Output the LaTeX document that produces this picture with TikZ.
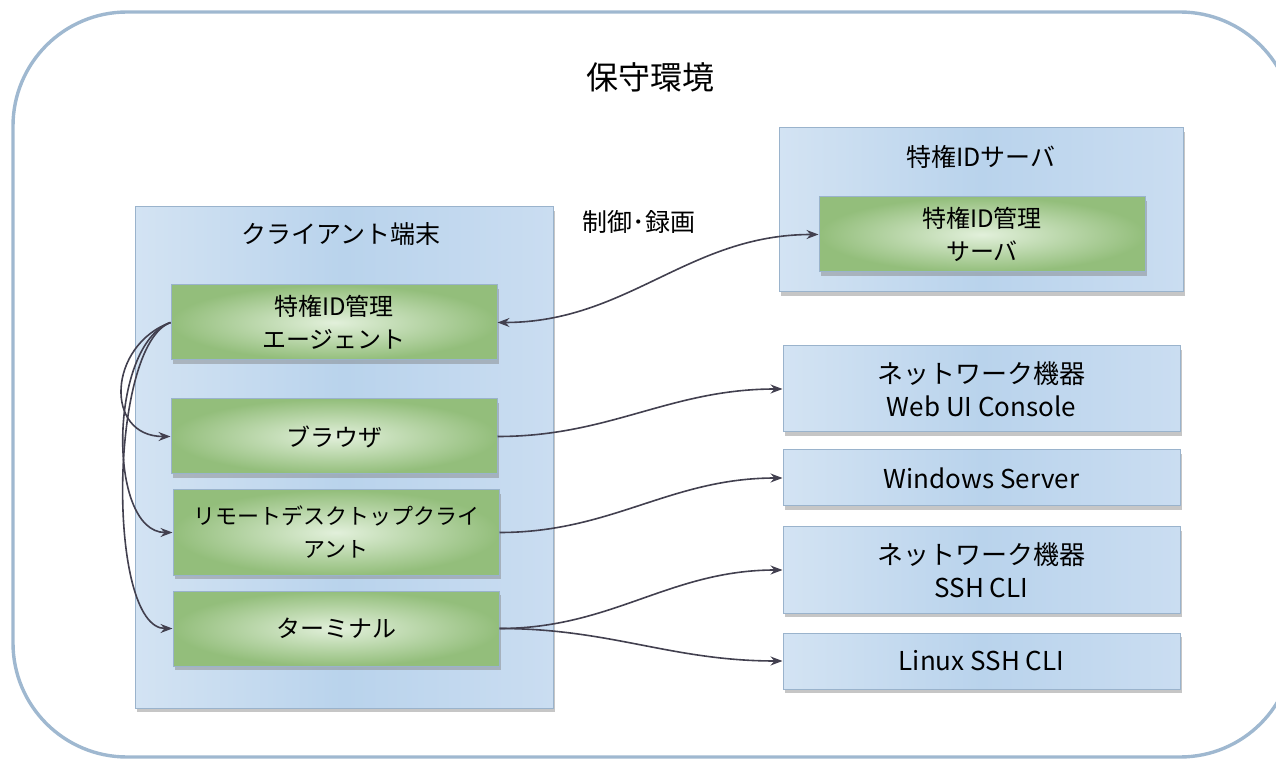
\documentclass[tikz,border=0pt]{standalone}
\usepackage{fontspec}
\setmainfont{Noto Sans CJK JP}
\usetikzlibrary{arrows.meta,shadows}

\definecolor{framecol}{HTML}{9FB8D0}
\definecolor{boxline}{HTML}{9AB3CC}
\definecolor{blueL}{HTML}{D3E3F3}
\definecolor{blueM}{HTML}{B9D3EC}
\definecolor{blueR}{HTML}{CADDF1}
\definecolor{greenIn}{HTML}{E2F0DB}
\definecolor{greenOut}{HTML}{93BE7B}
\definecolor{conncol}{HTML}{42404F}

\newcommand\boxfont{\fontsize{12}{16.5}\selectfont}

\begin{document}
\begin{tikzpicture}[x=0.5pt, y=-0.5pt,
    frame/.style = {draw=framecol, line width=1.7pt, rounded corners=57pt},
    boxbase/.style = {draw=boxline, line width=0.5pt, inner sep=0pt, align=center,
        font=\boxfont, drop shadow={shadow xshift=0.8pt, shadow yshift=-1.8pt, opacity=0.45}},
    bluebox/.style = {boxbase, left color=blueL, right color=blueR, middle color=blueM},
    greenbox/.style = {boxbase, inner color=greenIn, outer color=greenOut,
        minimum width=163pt, minimum height=37.5pt},
    devbox/.style = {bluebox, minimum width=198.5pt, font=\fontsize{13}{16.5}\selectfont},
    conn/.style = {draw=conncol, line width=0.8pt, -{Stealth[length=6pt, width=4.5pt, inset=2pt]}},
    bothconn/.style = {draw=conncol, line width=0.8pt,
        {Stealth[length=6pt, width=4.5pt, inset=2pt]}-{Stealth[length=6pt, width=4.5pt, inset=2pt]}}
]
    \useasboundingbox (0,0) rectangle (1276,759);
    \clip (0,0) rectangle (1276,759);

    % whole environment
    \draw[frame] (13,12) rectangle (1294,757);
    \node (title) at (650,77) {\fontsize{16}{16}\selectfont 保守環境};

    % client side
    \node[bluebox, minimum width=209pt, minimum height=250.5pt] (client) at (344,457.5) {};
    \node[font=\fontsize{12.5}{15}\selectfont] (clienttitle) at (341,234) {クライアント端末};
    \node[greenbox] (agent) at (334,322.5) {特権ID管理\\エージェント};
    \node[greenbox] (browser) at (334,436.5) {ブラウザ};
    \node[greenbox, minimum height=42.5pt, font=\fontsize{11}{16.5}\selectfont] (rdp) at (336,532.5)
        {リモートデスクトップクライ\\アント};
    \node[greenbox] (terminal) at (336,628.5) {ターミナル};

    % server side
    \node[bluebox, minimum width=202pt, minimum height=82pt] (idserver) at (981,210) {};
    \node[font=\fontsize{12.5}{15}\selectfont] (servertitle) at (981,157) {特権IDサーバ};
    \node[greenbox] (idmgr) at (982,234.5) {特権ID管理\\サーバ};
    \node[font=\fontsize{12.5}{14}\selectfont] (ctrllabel) at (639,222) {制御･録画};

    % targets
    \node[devbox, minimum height=43pt] (netweb) at (981.5,389) {ネットワーク機器\\Web UI Console};
    \node[devbox, minimum height=28pt] (winsrv) at (981.5,478) {Windows Server};
    \node[devbox, minimum height=43pt] (netssh) at (981.5,570) {ネットワーク機器\\SSH CLI};
    \node[devbox, minimum height=28pt] (linux) at (981.5,661) {Linux SSH CLI};

    % connections
    \draw[bothconn] (agent.east) to[out=0, in=180] (idmgr.west);
    \draw[conn] (agent.west) to[out=200, in=180, looseness=1.5] (browser.west);
    \draw[conn] (agent.west) to[out=200, in=180, looseness=0.8] (rdp.west);
    \draw[conn] (agent.west) to[out=200, in=180, looseness=0.55] (terminal.west);
    \draw[conn] (browser.east) to[out=0, in=180] (netweb.west);
    \draw[conn] (rdp.east) to[out=0, in=180] (winsrv.west);
    \draw[conn] (terminal.east) to[out=0, in=180] (netssh.west);
    \draw[conn] (terminal.east) to[out=0, in=180] (linux.west);
\end{tikzpicture}
\end{document}
